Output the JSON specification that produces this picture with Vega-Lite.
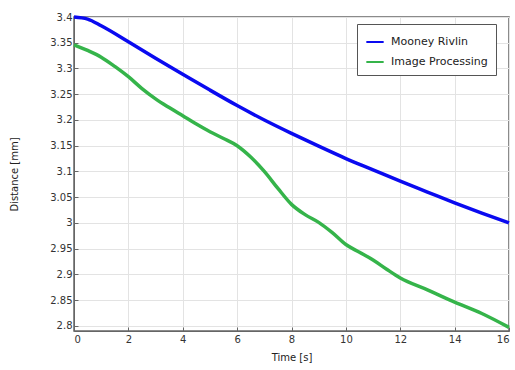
{
  "$schema": "https://vega.github.io/schema/vega-lite/v6.json",
  "autosize": "none",
  "width": 435,
  "height": 314,
  "padding": {"left": 74, "top": 17, "right": 6, "bottom": 39},
  "config": {
    "font": "DejaVu Sans",
    "view": {"stroke": "#666666", "strokeWidth": 1.5},
    "axis": {
      "labelFont": "DejaVu Sans",
      "titleFont": "DejaVu Sans",
      "labelFontSize": 10,
      "titleFontSize": 10,
      "titleFontWeight": "normal",
      "labelColor": "#333333",
      "titleColor": "#222222",
      "gridColor": "#e3e3e3",
      "gridWidth": 1,
      "domainColor": "#666666",
      "tickColor": "#666666",
      "tickSize": -4
    }
  },
  "data": {
    "values": [
      {"t": 0, "d": 3.400, "s": "Mooney Rivlin"},
      {"t": 0.5, "d": 3.396, "s": "Mooney Rivlin"},
      {"t": 1, "d": 3.383, "s": "Mooney Rivlin"},
      {"t": 2, "d": 3.352, "s": "Mooney Rivlin"},
      {"t": 3, "d": 3.320, "s": "Mooney Rivlin"},
      {"t": 4, "d": 3.289, "s": "Mooney Rivlin"},
      {"t": 5, "d": 3.258, "s": "Mooney Rivlin"},
      {"t": 6, "d": 3.228, "s": "Mooney Rivlin"},
      {"t": 7, "d": 3.200, "s": "Mooney Rivlin"},
      {"t": 8, "d": 3.174, "s": "Mooney Rivlin"},
      {"t": 9, "d": 3.149, "s": "Mooney Rivlin"},
      {"t": 10, "d": 3.125, "s": "Mooney Rivlin"},
      {"t": 11, "d": 3.103, "s": "Mooney Rivlin"},
      {"t": 12, "d": 3.081, "s": "Mooney Rivlin"},
      {"t": 13, "d": 3.060, "s": "Mooney Rivlin"},
      {"t": 14, "d": 3.039, "s": "Mooney Rivlin"},
      {"t": 15, "d": 3.019, "s": "Mooney Rivlin"},
      {"t": 16, "d": 3.000, "s": "Mooney Rivlin"},
      {"t": 0, "d": 3.346, "s": "Image Processing"},
      {"t": 0.5, "d": 3.335, "s": "Image Processing"},
      {"t": 1, "d": 3.322, "s": "Image Processing"},
      {"t": 1.5, "d": 3.304, "s": "Image Processing"},
      {"t": 2, "d": 3.284, "s": "Image Processing"},
      {"t": 2.5, "d": 3.261, "s": "Image Processing"},
      {"t": 3, "d": 3.241, "s": "Image Processing"},
      {"t": 3.5, "d": 3.224, "s": "Image Processing"},
      {"t": 4, "d": 3.208, "s": "Image Processing"},
      {"t": 4.5, "d": 3.192, "s": "Image Processing"},
      {"t": 5, "d": 3.177, "s": "Image Processing"},
      {"t": 5.5, "d": 3.164, "s": "Image Processing"},
      {"t": 6, "d": 3.150, "s": "Image Processing"},
      {"t": 6.5, "d": 3.128, "s": "Image Processing"},
      {"t": 7, "d": 3.100, "s": "Image Processing"},
      {"t": 7.5, "d": 3.067, "s": "Image Processing"},
      {"t": 8, "d": 3.036, "s": "Image Processing"},
      {"t": 8.5, "d": 3.016, "s": "Image Processing"},
      {"t": 9, "d": 3.001, "s": "Image Processing"},
      {"t": 9.5, "d": 2.981, "s": "Image Processing"},
      {"t": 10, "d": 2.958, "s": "Image Processing"},
      {"t": 10.5, "d": 2.943, "s": "Image Processing"},
      {"t": 11, "d": 2.928, "s": "Image Processing"},
      {"t": 11.5, "d": 2.910, "s": "Image Processing"},
      {"t": 12, "d": 2.893, "s": "Image Processing"},
      {"t": 13, "d": 2.870, "s": "Image Processing"},
      {"t": 14, "d": 2.846, "s": "Image Processing"},
      {"t": 15, "d": 2.824, "s": "Image Processing"},
      {"t": 16, "d": 2.797, "s": "Image Processing"}
    ]
  },
  "mark": {"type": "line", "strokeWidth": 3.5, "interpolate": "monotone"},
  "encoding": {
    "x": {
      "field": "t", "type": "quantitative", "title": "Time [s]",
      "scale": {"domain": [0, 16], "nice": false},
      "axis": {"values": [0, 2, 4, 6, 8, 10, 12, 14, 16], "labelPadding": 7, "titlePadding": 8}
    },
    "y": {
      "field": "d", "type": "quantitative", "title": "Distance [mm]",
      "scale": {"domain": [2.79, 3.4], "nice": false, "zero": false},
      "axis": {
        "values": [2.8, 2.85, 2.9, 2.95, 3, 3.05, 3.1, 3.15, 3.2, 3.25, 3.3, 3.35, 3.4],
        "format": ".3~f", "labelPadding": 6, "titlePadding": 30
      }
    },
    "color": {
      "field": "s", "type": "nominal",
      "scale": {"domain": ["Mooney Rivlin", "Image Processing"], "range": ["#0a0af0", "#35b44a"]},
      "legend": {
        "title": null,
        "orient": "none",
        "legendX": 283,
        "legendY": 7,
        "fillColor": "white",
        "strokeColor": "#555555",
        "padding": 8,
        "symbolType": "stroke",
        "symbolStrokeWidth": 2,
        "symbolSize": 300,
        "labelFontSize": 11,
        "labelOffset": 6,
        "labelColor": "#222222",
        "rowPadding": 5
      }
    }
  }
}
